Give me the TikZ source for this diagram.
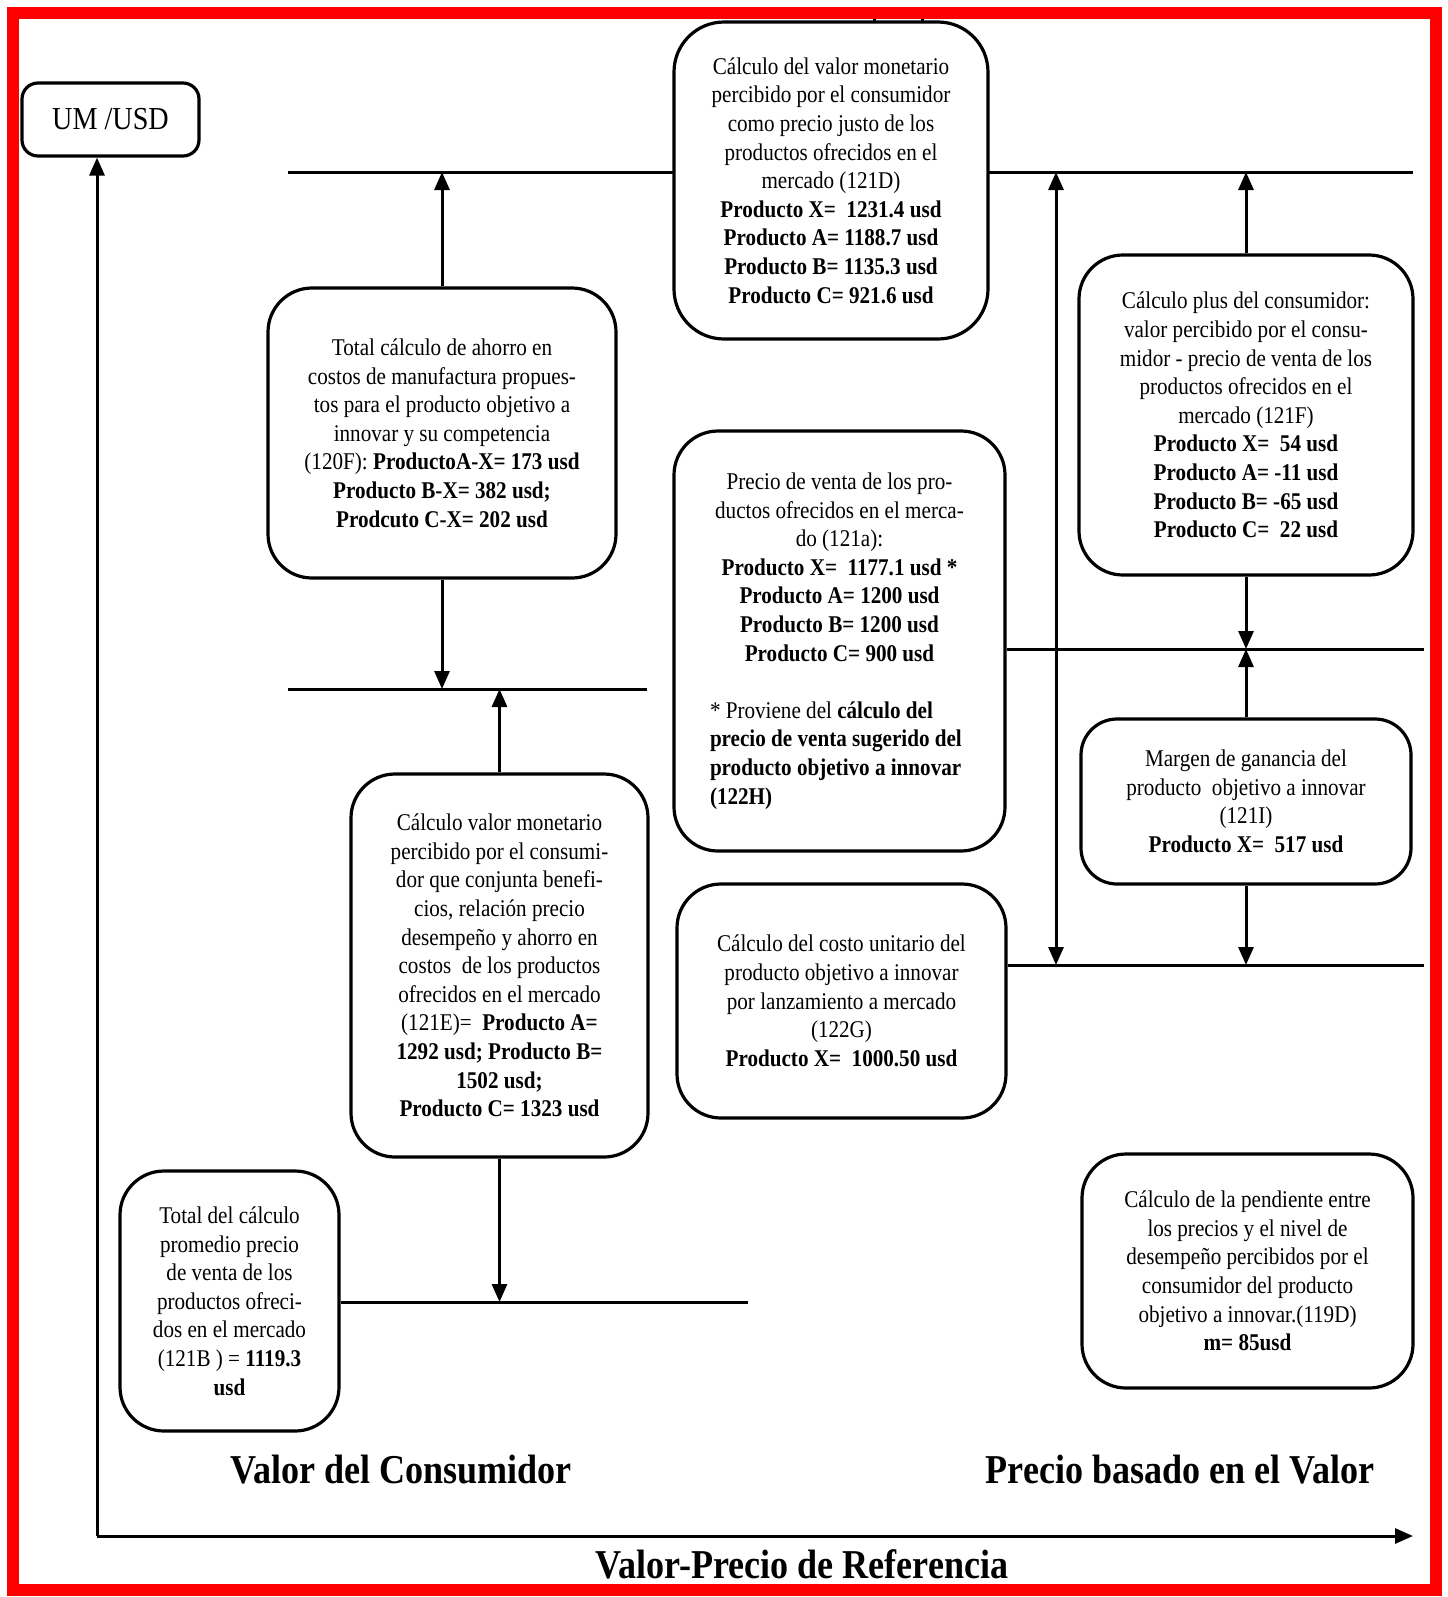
\documentclass[tikz,border=0pt]{standalone}
\usepackage{fontspec}
\setmainfont{Liberation Serif}[FakeStretch=0.88]
\usetikzlibrary{arrows.meta}
\begin{document}
\begin{tikzpicture}[x=0.5pt,y=-0.5pt,
  box/.style={draw, line width=1.6pt, rounded corners=22pt, fill=white, align=center, inner sep=0pt, font=\fontsize{12}{14.3}\selectfont},
  ln/.style={line width=1.5pt},
  arr/.style={line width=1.5pt, -{Triangle[length=9pt,width=7.5pt]}},
  arrboth/.style={line width=1.5pt, {Triangle[length=9pt,width=7.5pt]}-{Triangle[length=9pt,width=7.5pt]}},
  title/.style={font=\fontsize{20.5}{24}\selectfont\bfseries, anchor=base, inner sep=0pt}]
\useasboundingbox[fill=white] (0,0) rectangle (1447,1597);

% free line ends
\coordinate (L1a) at (288,172);  \coordinate (L1b) at (1413,172);
\coordinate (L2a) at (288,689);  \coordinate (L2b) at (647,689);
\coordinate (L3b) at (748,1302);
\coordinate (L4b) at (1424,649);
\coordinate (L5b) at (1424,965);
\coordinate (O) at (97,1536);    \coordinate (XE) at (1413,1536);
\coordinate (D1) at (1056,172);  \coordinate (D2) at (1056,965);
\coordinate (T1a) at (874,10);   \coordinate (T1b) at (874,24);
\coordinate (T2a) at (922,10);   \coordinate (T2b) at (922,24);

% horizontal lines (behind boxes)
\draw[ln] (L1a) -- (L1b);
\draw[ln] (L2a) -- (L2b);
\draw[ln] (T1a) -- (T1b);
\draw[ln] (T2a) -- (T2b);

% boxes
\node[box, rounded corners=8pt, minimum width=88.5pt, minimum height=36.5pt, font=\fontsize{16}{19}\selectfont] (um) at (110.5,119.5) {UM /USD};

\node[box, rounded corners=25pt, minimum width=157pt, minimum height=158.5pt] (n121D) at (831,180.5) {%
Cálculo del valor monetario\\
percibido por el consumidor\\
como precio justo de los\\
productos ofrecidos en el\\
mercado (121D)\\
\textbf{Producto X=\ \ 1231.4 usd}\\
\textbf{Producto A= 1188.7 usd}\\
\textbf{Producto B= 1135.3 usd}\\
\textbf{Producto C= 921.6 usd}};

\node[box, minimum width=174pt, minimum height=145pt] (n120F) at (442,433) {%
Total cálculo de ahorro en\\
costos de manufactura propues-\\
tos para el producto objetivo a\\
innovar y su competencia\\
(120F): \textbf{ProductoA-X= 173 usd}\\
\textbf{Producto B-X= 382 usd;}\\
\textbf{Prodcuto C-X= 202 usd}};

\node[box, minimum width=148.5pt, minimum height=191.5pt] (n121E) at (499.5,965.5) {%
Cálculo valor monetario\\
percibido por el consumi-\\
dor que conjunta benefi-\\
cios, relación precio\\
desempeño y ahorro en\\
costos\ \ de los productos\\
ofrecidos en el mercado\\
(121E)=\ \ \textbf{Producto A=}\\
\textbf{1292 usd; Producto B=}\\
\textbf{1502 usd;}\\
\textbf{Producto C= 1323 usd}};

\node[box, minimum width=109.5pt, minimum height=130pt] (n121B) at (229.5,1301) {%
Total del cálculo\\
promedio precio\\
de venta de los\\
productos ofreci-\\
dos en el mercado\\
(121B\ ) = \textbf{1119.3}\\
\textbf{usd}};

\node[box, minimum width=165.5pt, minimum height=210pt] (n121a) at (839.5,641) {%
\begin{minipage}{129.5pt}\centering
Precio de venta de los pro-\\
ductos ofrecidos en el merca-\\
do (121a):\\
\textbf{Producto X=\ \ 1177.1 usd *}\\
\textbf{Producto A= 1200 usd}\\
\textbf{Producto B= 1200 usd}\\
\textbf{Producto C= 900 usd}\par
\vspace{14.3pt}\raggedright
* Proviene del \textbf{cálculo del}\\
\textbf{precio de venta sugerido del}\\
\textbf{producto objetivo a innovar}\\
\textbf{(122H)}\par
\end{minipage}};

\node[box, minimum width=167pt, minimum height=160pt] (n121F) at (1246,415) {%
Cálculo plus del consumidor:\\
valor percibido por el consu-\\
midor - precio de venta de los\\
productos ofrecidos en el\\
mercado (121F)\\
\textbf{Producto X=\ \ 54 usd}\\
\textbf{Producto A= -11 usd}\\
\textbf{Producto B= -65 usd}\\
\textbf{Producto C=\ \ 22 usd}};

\node[box, rounded corners=18pt, minimum width=165pt, minimum height=82.5pt] (n121I) at (1246,801.5) {%
Margen de ganancia del\\
producto\ \ objetivo a innovar\\
(121I)\\
\textbf{Producto X=\ \ 517 usd}};

\node[box, minimum width=164.5pt, minimum height=117pt] (n122G) at (841.5,1001) {%
Cálculo del costo unitario del\\
producto objetivo a innovar\\
por lanzamiento a mercado\\
(122G)\\
\textbf{Producto X=\ \ 1000.50 usd}};

\node[box, minimum width=165.5pt, minimum height=117pt] (n119D) at (1247.5,1271) {%
Cálculo de la pendiente entre\\
los precios y el nivel de\\
desempeño percibidos por el\\
consumidor del producto\\
objetivo a innovar.(119D)\\
\textbf{m= 85usd}};

% lines starting at boxes
\draw[ln] (n121B.east |- L3b) -- (L3b);
\draw[ln] (n121a.east |- L4b) -- (L4b);
\draw[ln] (n122G.east |- L5b) -- (L5b);

% arrows
\draw[arr] (n120F.north) -- (n120F.north |- L1a);
\draw[arr] (n120F.south) -- (n120F.south |- L2a);
\draw[arr] (n121E.north) -- (n121E.north |- L2a);
\draw[arr] (n121E.south) -- (n121E.south |- L3b);
\draw[arr] (n121F.north) -- (n121F.north |- L1a);
\draw[arr] (n121F.south) -- (n121F.south |- L4b);
\draw[arr] (n121I.north) -- (n121I.north |- L4b);
\draw[arr] (n121I.south) -- (n121I.south |- L5b);
\draw[arrboth] (D1) -- (D2);

% axes
\draw[arr] (O) -- (O |- um.south);
\draw[arr] (O) -- (XE);

% titles
\node[title] (t1) at (401,1483) {Valor del Consumidor};
\node[title] (t2) at (1180,1483) {Precio basado en el Valor};
\node[title] (t3) at (802,1578) {Valor-Precio de Referencia};

% red frame
\draw[red, line width=6pt] (12.5,12.5) rectangle (1436,1590);
\end{tikzpicture}
\end{document}
